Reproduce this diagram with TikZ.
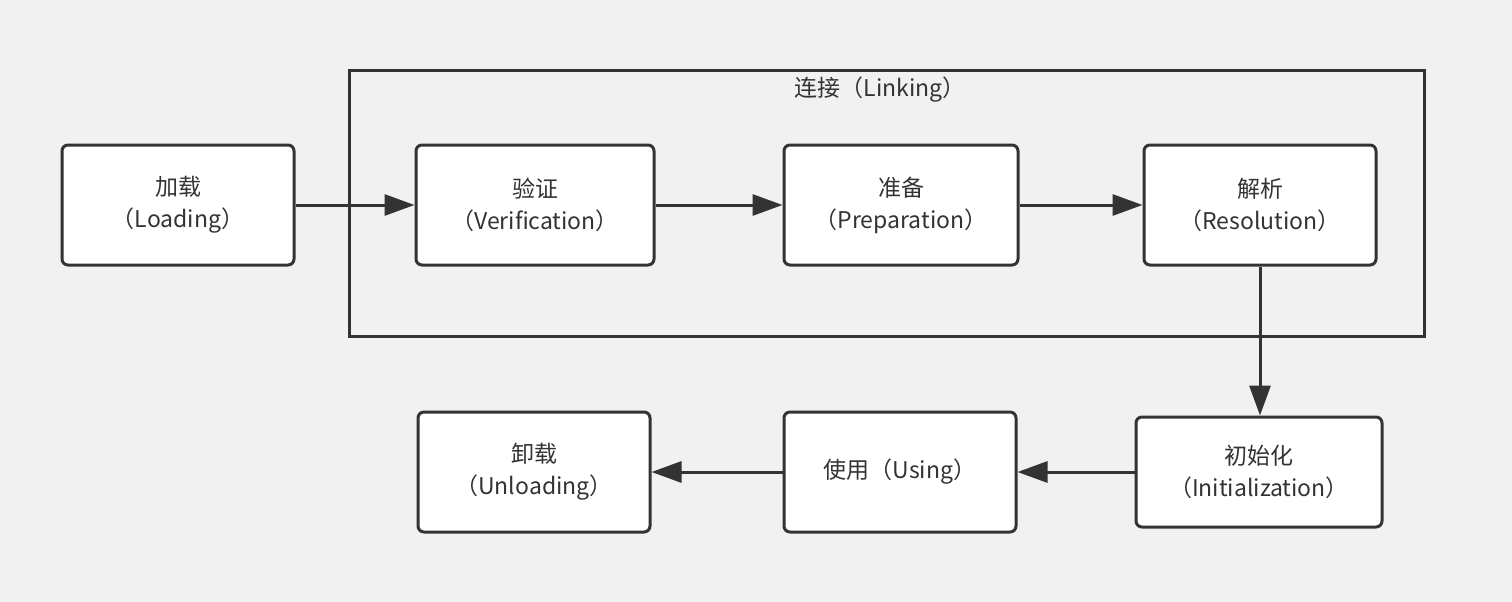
\documentclass[tikz,border=0pt]{standalone}
\usepackage{fontspec}
\setmainfont{Noto Sans CJK SC}
\usetikzlibrary{arrows.meta}
\definecolor{inkgray}{HTML}{333333}
\definecolor{paper}{HTML}{F1F1F1}

\begin{document}
\begin{tikzpicture}[x=1pt,y=-1pt,
		stage/.style={draw=inkgray,fill=white,line width=3pt,rounded corners=6pt,
			align=center,text=inkgray,font=\fontsize{23}{32}\selectfont,
			minimum width=232pt,minimum height=120pt,inner sep=0pt},
		flow/.style={draw=inkgray,line width=3pt,-{Triangle[length=30pt,width=21pt]}}]
				\fill[paper] (0,0) rectangle (1512,602);
				\useasboundingbox (0,0) rectangle (1512,602);
				
				% linking frame
				\draw[inkgray,line width=3pt] (349,71) rectangle (1424,336);
				\node[text=inkgray,font=\fontsize{23}{32}\selectfont] (linking) at (880,90) {连接（Linking）};
				
				\node[stage] (load) at (178,205) {加载\\（Loading）};
				\node[stage,minimum width=238pt] (verify) at (535,205) {验证\\（Verification）};
				\node[stage,minimum width=234pt] (prep) at (901,205) {准备\\（Preparation）};
				\node[stage] (resol) at (1260,205) {解析\\（Resolution）};
				
				\node[stage,minimum width=246pt,minimum height=110pt] (init) at (1259,472) {初始化\\（Initialization）};
				\node[stage] (use) at (900,472) {使用（Using）};
				\node[stage] (unload) at (534,472) {卸载\\（Unloading）};
				
				\draw[flow] (load) -- (verify);
				\draw[flow] (verify) -- (prep);
				\draw[flow] (prep) -- (resol);
				\draw[flow] (resol.south) -- (resol.south |- init.north);
				\draw[flow] (init.west |- use) -- (use);
				\draw[flow] (use) -- (unload);
\end{tikzpicture}
\end{document}
